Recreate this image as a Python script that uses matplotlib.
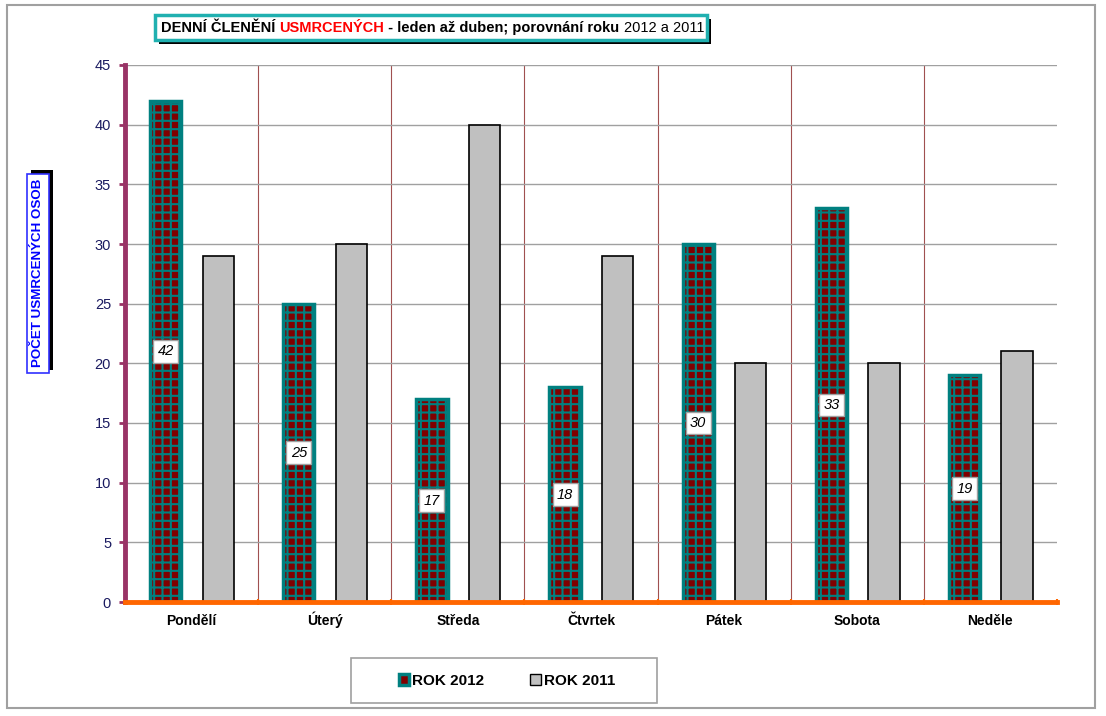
import numpy as np
import matplotlib
matplotlib.use('Agg')
import matplotlib.pyplot as plt
from matplotlib.patches import Rectangle, Patch

days = ['Pondělí', 'Úterý', 'Středa', 'Čtvrtek', 'Pátek', 'Sobota', 'Neděle']
rok_2012 = [42, 25, 17, 18, 30, 33, 19]
rok_2011 = [29, 30, 40, 29, 20, 20, 21]

plt.rcParams['font.family'] = ['Liberation Sans', 'DejaVu Sans']
plt.rcParams['hatch.linewidth'] = 1.5

W, H = 1106, 716
fig = plt.figure(figsize=(W / 100, H / 100), dpi=100)

def fx(px):
    return px / W

def fy(py):
    return 1 - py / H

# outer frame
fig.patches.append(Rectangle((fx(7), fy(708)), fx(1095) - fx(7), fy(5) - fy(708),
                             transform=fig.transFigure, fill=False, ec='#a0a0a0', lw=1.5))

ax = fig.add_axes([fx(125), fy(602), fx(1057) - fx(125), fy(65) - fy(602)])

x = np.arange(len(days))
bw = 0.235
b12 = ax.bar(x - 0.195, rok_2012, bw, color='#800000', edgecolor='#008080', hatch='++',
             linewidth=2.5, zorder=3)
b11 = ax.bar(x + 0.2, rok_2011, bw, color='#c0c0c0', edgecolor='black', linewidth=1.2, zorder=3)

for xi, v in zip(x - 0.195, rok_2012):
    ax.text(xi, v / 2, str(v), ha='center', va='center', fontsize=10.5, style='italic',
            zorder=5, bbox=dict(boxstyle='square,pad=0.3', fc='white', ec='#a0a0a0', lw=1))

ax.set_xlim(-0.5, len(days) - 0.5)
ax.set_ylim(0, 45)
ax.set_yticks(range(0, 46, 5))
ax.yaxis.grid(True, color='#a0a0a0', lw=1, zorder=0)
for b in np.arange(0.5, len(days) - 0.5, 1):
    ax.axvline(b, color='#a05050', lw=0.8, zorder=0)

ax.set_xticks(x)
ax.set_xticklabels(days, fontsize=10, fontweight='bold')
for lbl in ax.get_xticklabels():
    lbl.set_va('baseline')
ax.set_xticks(np.arange(-0.5, len(days), 1), minor=True)
ax.tick_params(axis='x', which='major', length=0, pad=16.5)
ax.tick_params(axis='x', which='minor', length=4, color='#ff6600', width=1.5, direction='inout')
ax.tick_params(axis='y', length=4, color='#993366', width=2, labelsize=10.5,
               labelcolor='#1a1a60', pad=6)

for s in ['top', 'right']:
    ax.spines[s].set_visible(False)
ax.spines['left'].set_color('#993366')
ax.spines['left'].set_linewidth(3.5)
ax.spines['bottom'].set_color('#ff6600')
ax.spines['bottom'].set_linewidth(3.5)
ax.spines['bottom'].set_zorder(4)

# title box
fig.patches.append(Rectangle((fx(159), fy(44)), fx(711) - fx(159), fy(19) - fy(44),
                             transform=fig.transFigure, fc='black', ec='none'))
fig.patches.append(Rectangle((fx(155), fy(40)), fx(707) - fx(155), fy(15) - fy(40),
                             transform=fig.transFigure, fc='white', ec='#20b0b0', lw=2.5))

pieces = [('DENNÍ ČLENĚNÍ ', 'black', 'bold'),
          ('USMRCENÝCH', '#ff0000', 'bold'),
          (' - leden až duben; porovnání roku ', 'black', 'bold'),
          ('2012 a 2011', 'black', 'normal')]
renderer = fig.canvas.get_renderer()
xpos = fx(161)
for txt, col, wt in pieces:
    t = fig.text(xpos, fy(28), txt, color=col, fontweight=wt, fontsize=10.5,
                 ha='left', va='center')
    bb = t.get_window_extent(renderer=renderer)
    xpos += bb.width / W

# y label box
fig.patches.append(Rectangle((fx(31), fy(370)), fx(53) - fx(31), fy(170) - fy(370),
                             transform=fig.transFigure, fc='black', ec='none'))
fig.patches.append(Rectangle((fx(27), fy(373)), fx(49) - fx(27), fy(174) - fy(373),
                             transform=fig.transFigure, fc='white', ec='#3030ff', lw=1.2))
fig.text(fx(38), fy(273), 'POČET USMRCENÝCH OSOB', rotation=90, color='#0000ff',
         fontweight='bold', fontsize=9.6, ha='center', va='center')

# legend
fig.patches.append(Rectangle((fx(351), fy(703)), fx(657) - fx(351), fy(658) - fy(703),
                             transform=fig.transFigure, fc='white', ec='#a0a0a0', lw=1.2))
handles = [Patch(facecolor='#800000', edgecolor='#008080', linewidth=2.5),
           Patch(facecolor='#c0c0c0', edgecolor='black', linewidth=1)]
leg = fig.legend(handles, ['ROK 2012', 'ROK 2011'], ncol=2, loc='center',
                 bbox_to_anchor=(fx(507), fy(681)), frameon=False,
                 prop={'weight': 'bold', 'size': 11}, handlelength=0.7, handleheight=0.7,
                 handletextpad=0.2, columnspacing=3.0, borderaxespad=0)

fig.savefig('out.png', dpi=100)
